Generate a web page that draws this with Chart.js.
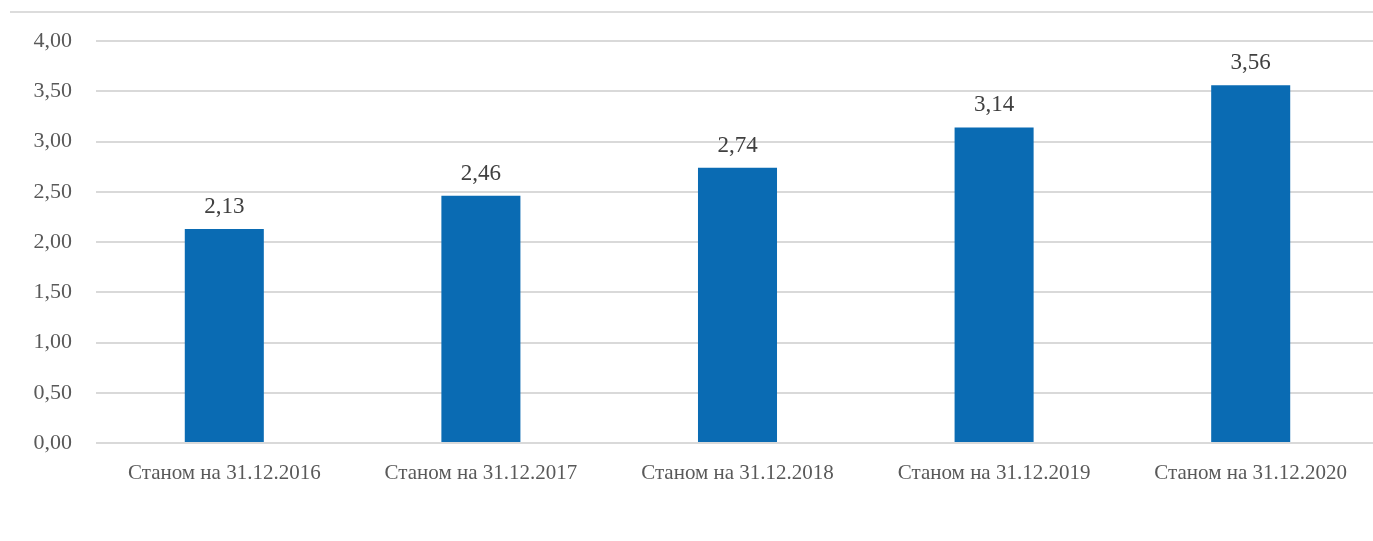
<!DOCTYPE html>
<html>
<head>
<meta charset="utf-8">
<script src="https://cdn.jsdelivr.net/npm/chart.js@4/dist/chart.umd.min.js"></script>
<style>
  html, body { margin: 0; padding: 0; background: #ffffff; overflow: hidden; }
  #wrap { position: relative; width: 1373px; height: 541px; overflow: hidden; }
  #topline { position: absolute; left: 10px; right: 0; top: 11px; height: 2px; background: #dcdcdc; }
  canvas { position: absolute; left: 0; top: 0; }
</style>
</head>
<body>
<div id="wrap">
  <div id="topline"></div>
  <canvas id="c" width="1379" height="541"></canvas>
</div>
<script>
const categories = [
  "Станом на 31.12.2016",
  "Станом на 31.12.2017",
  "Станом на 31.12.2018",
  "Станом на 31.12.2019",
  "Станом на 31.12.2020"
];
const values = [2.13, 2.46, 2.74, 3.14, 3.56];
const yTickLabels = ["0,00", "0,50", "1,00", "1,50", "2,00", "2,50", "3,00", "3,50", "4,00"];

const fmt = v => v.toFixed(2).replace(".", ",");

const valueLabels = {
  id: "valueLabels",
  afterDatasetsDraw(chart) {
    const ctx = chart.ctx;
    const meta = chart.getDatasetMeta(0);
    ctx.save();
    ctx.font = "23px 'Liberation Serif', 'Times New Roman', serif";
    ctx.fillStyle = "#404040";
    ctx.textAlign = "center";
    ctx.textBaseline = "alphabetic";
    meta.data.forEach((bar, i) => {
      ctx.fillText(fmt(chart.data.datasets[0].data[i]), bar.x, bar.y - 16);
    });
    ctx.restore();
  }
};

new Chart(document.getElementById("c"), {
  type: "bar",
  data: {
    labels: categories,
    datasets: [{
      data: values,
      backgroundColor: "#0A6BB3",
      categoryPercentage: 1.0,
      barPercentage: 0.308
    }]
  },
  options: {
    responsive: false,
    animation: false,
    devicePixelRatio: 1,
    layout: { padding: { left: 0, right: 0, top: 41, bottom: 48 } },
    plugins: { legend: { display: false }, tooltip: { enabled: false } },
    scales: {
      x: {
        grid: { display: false },
        border: { display: false },
        ticks: {
          color: "#595959",
          font: { family: "'Liberation Serif', 'Times New Roman', serif", size: 21 },
          padding: 10,
          maxRotation: 0,
          autoSkip: false
        },
        afterFit(scale) { scale.height = 50; }
      },
      y: {
        min: 0,
        max: 4,
        ticks: {
          stepSize: 0.5,
          color: "#595959",
          font: { family: "'Liberation Serif', 'Times New Roman', serif", size: 22 },
          padding: 24,
          callback: (v, i) => yTickLabels[i]
        },
        grid: { color: "#d9d9d9", lineWidth: 2, drawTicks: false },
        border: { display: false },
        afterFit(scale) { scale.width = 96; }
      }
    }
  },
  plugins: [valueLabels]
});
</script>
</body>
</html>
